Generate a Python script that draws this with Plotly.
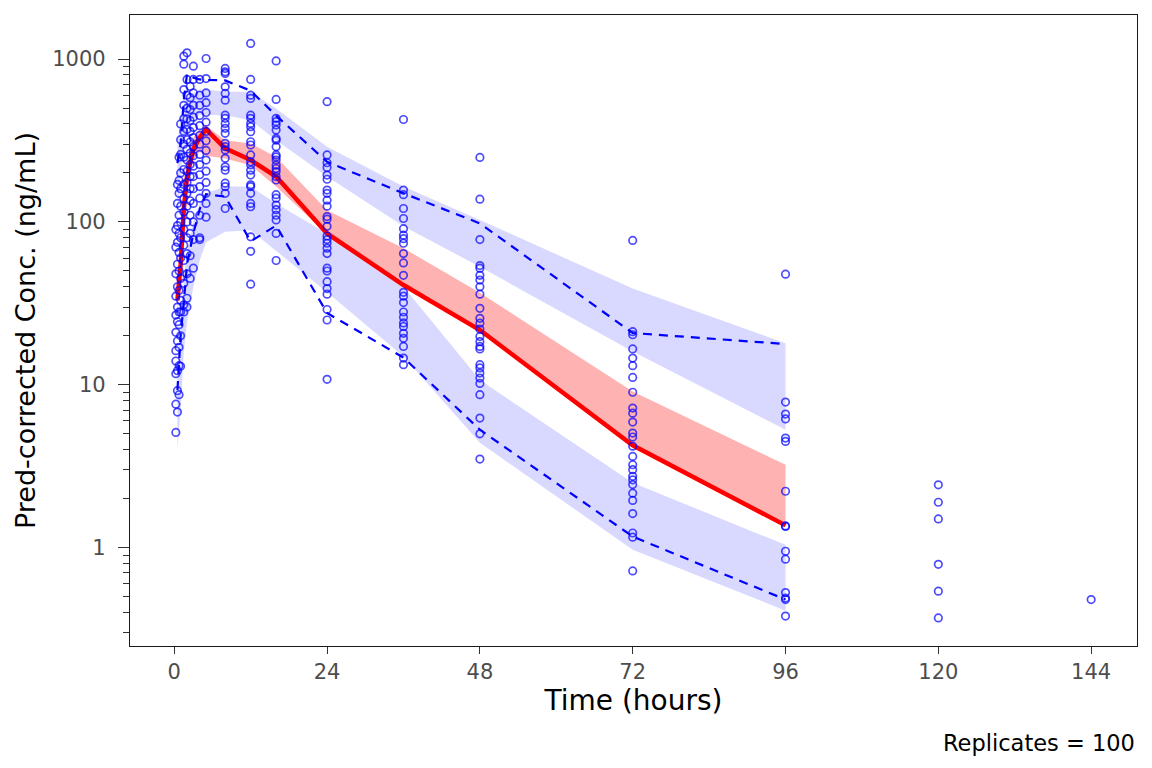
import plotly.graph_objects as go

# ========== 观测数据（按名义时间分列） ==========
obs_times = [0.25, 0.5, 0.75, 1, 1.5, 2, 2.5, 3, 4, 5, 8, 12, 16, 24, 36, 48, 72, 96, 120, 144]
obs_conc = [
    [5.1, 7.6, 11.7, 14.0, 16.2, 21.0, 26.8, 35, 48, 70, 90],
    [6.8, 9.2, 12.2, 18.6, 24.4, 30, 40, 55, 75, 95, 130, 170],
    [8.7, 13.1, 17, 23.4, 28, 38, 50, 65, 85, 110, 150, 180, 250],
    [13, 20, 28, 33, 45, 60, 80, 100, 125, 160, 200, 260, 320, 400],
    [28, 31, 42, 58, 72, 90, 115, 140, 170, 210, 250, 300, 360, 430, 520, 650, 931, 1043],
    [30, 34, 48, 64, 80, 100, 125, 150, 175, 205, 240, 280, 320, 370, 430, 500, 600, 750, 1094],
    [45, 62, 85, 110, 135, 160, 190, 225, 265, 310, 360, 420, 490, 580, 680],
    [52, 78, 100, 130, 160, 190, 220, 255, 290, 330, 380, 440, 520, 620, 750, 905],
    [78, 80, 110, 140, 165, 195, 225, 260, 300, 340, 390, 450, 520, 600, 750],
    [107, 130, 150, 175, 205, 240, 275, 315, 360, 410, 470, 540, 620, 760, 1009],
    [877, 836, 817, 676, 616, 560, 453, 433, 403, 376, 350, 304, 290, 277, 246, 218, 208, 173, 165, 150, 121],
    [1248, 750, 601, 574, 453, 433, 403, 385, 358, 311, 297, 258, 234, 224, 208, 194, 169, 165, 150, 130, 124, 81, 66, 41.5],
    [975, 566, 433, 413, 394, 367, 326, 318, 290, 258, 251, 240, 223, 213, 204, 190, 181, 147, 140, 127, 119, 110, 103, 85, 58],
    [548, 258, 231, 216, 194, 183, 157, 150, 136, 125, 108, 104, 94, 82, 78, 74, 69, 64, 52, 50, 43, 39, 36, 29, 25, 10.8],
    [426, 157, 147, 121, 105, 91, 83, 79, 74, 64, 56, 47, 37, 35, 32, 28, 26, 24, 22.8, 20.7, 19.3, 17.2, 14.6, 13.3],
    [249, 138, 78, 54, 52, 47, 44, 40, 36, 29.5, 25.6, 23.9, 22, 19.8, 18.4, 17.2, 16.6, 13.3, 12.7, 11.8, 11.0, 10.2, 8.7, 6.25, 5.0, 3.5],
    [77, 21.2, 20.3, 16.6, 14.6, 13.1, 11.1, 9.0, 7.2, 6.7, 5.9, 5.05, 4.78, 4.2, 3.63, 3.23, 3.01, 2.74, 2.61, 2.44, 2.16, 1.95, 1.62, 1.23, 1.16, 0.72],
    [47.8, 7.83, 6.61, 6.17, 4.71, 4.49, 2.22, 1.36, 1.35, 0.95, 0.85, 0.53, 0.49, 0.48, 0.38],
    [2.43, 1.90, 1.50, 0.79, 0.54, 0.37],
    [0.48],
]

# ========== VPC分箱统计 ==========
bin_t = [0.5, 1, 1.5, 2, 3, 4, 5, 8, 12, 16, 24, 36, 48, 72, 96]
obs_med = [33, 55, 120, 190, 280, 330, 370, 283, 240, 190, 85, 41, 21.7, 4.25, 1.37]
obs_hi = [230, 300, 560, 810, 770, 750, 745, 740, 640, 450, 234, 150, 98, 20.8, 17.8]
obs_lo = [9.3, 20, 32, 55, 85, 120, 148, 143, 76, 95, 27.6, 14.7, 5.3, 1.17, 0.48]
med_ci_lo = [27, 45, 95, 160, 240, 270, 255, 245, 223, 165, 84, 42, 21.5, 4.2, 1.36]
med_ci_hi = [40, 75, 150, 240, 330, 370, 390, 318, 303, 251, 118, 69, 36.7, 9.1, 3.23]
hi_ci_lo = [100, 200, 300, 380, 430, 455, 455, 453, 422, 318, 190, 94, 53, 16, 5.3]
hi_ci_hi = [300, 450, 520, 580, 620, 650, 650, 630, 630, 498, 290, 165, 103, 39, 18]
lo_ci_lo = [4, 7, 16, 24, 40, 58, 75, 87, 89, 67, 37, 14.9, 4.4, 0.97, 0.41]
lo_ci_hi = [12, 25, 45, 65, 100, 130, 150, 165, 165, 130, 85, 40, 10.7, 2.5, 1.04]

x_ticks = [0, 24, 48, 72, 96, 120, 144]
y_ticks = [1, 10, 100, 1000]
y_minor = [m * 10 ** k for k in range(-1, 4) for m in range(2, 10)]


def band(x, lo, hi, color):
    return go.Scatter(x=list(x) + list(x)[::-1], y=list(hi) + list(lo)[::-1],
                      fill='toself', fillcolor=color, line=dict(width=0),
                      mode='lines', hoverinfo='skip', showlegend=False)


fig = go.Figure()
fig.add_trace(band(bin_t, hi_ci_lo, hi_ci_hi, 'rgba(0,0,255,0.15)'))
fig.add_trace(band(bin_t, lo_ci_lo, lo_ci_hi, 'rgba(0,0,255,0.15)'))
fig.add_trace(band(bin_t, med_ci_lo, med_ci_hi, 'rgba(255,0,0,0.3)'))
fig.add_trace(go.Scatter(x=bin_t, y=obs_med, mode='lines', line=dict(color='red', width=4.5), showlegend=False))
fig.add_trace(go.Scatter(x=bin_t, y=obs_hi, mode='lines', line=dict(color='blue', width=2.2, dash='9px,7px'), showlegend=False))
fig.add_trace(go.Scatter(x=bin_t, y=obs_lo, mode='lines', line=dict(color='blue', width=2.2, dash='9px,7px'), showlegend=False))

xs, ys = [], []
for t, vals in zip(obs_times, obs_conc):
    xs += [t] * len(vals)
    ys += vals
fig.add_trace(go.Scatter(x=xs, y=ys, mode='markers', showlegend=False,
                         marker=dict(symbol='circle-open', size=7.5, color='rgba(0,0,255,0.7)',
                                     line=dict(width=1.7))))

fig.update_layout(
    width=1152, height=768,
    margin=dict(l=130, r=15, t=15, b=122),
    paper_bgcolor='white', plot_bgcolor='white',
    font=dict(family='DejaVu Sans', size=21, color='#4D4D4D'),
    xaxis=dict(range=[-6.95, 151.2], tickvals=x_ticks, ticks='outside', ticklen=7, tickwidth=1.4,
               tickcolor='#333333', showline=True, linecolor='#1a1a1a', linewidth=1.3, mirror=True,
               showgrid=False, zeroline=False, ticklabelstandoff=0,
               title=dict(text='Time (hours)', font=dict(size=28, color='black'), standoff=6)),
    yaxis=dict(type='log', range=[-0.604, 3.271], tickvals=y_ticks, ticktext=['1', '10', '100', '1000'],
               ticks='outside', ticklen=11, tickwidth=1.4, tickcolor='#333333',
               minor=dict(tickvals=y_minor, ticks='outside', ticklen=6, tickwidth=1.1,
                          tickcolor='#333333', showgrid=False),
               showline=True, linecolor='#1a1a1a', linewidth=1.3, mirror=True,
               showgrid=False, zeroline=False, ticklabelstandoff=8,
               title=dict(text='Pred-corrected Conc. (ng/mL)', font=dict(size=27, color='black'), standoff=8)),
    annotations=[dict(text='Replicates = 100', xref='paper', yref='paper', x=1, y=-0.13,
                      xanchor='right', yanchor='top', showarrow=False,
                      font=dict(size=22.5, color='black'))],
)

fig.write_html('out.html', config={'displayModeBar': False},
               post_script="document.body.style.margin='0';document.body.style.overflow='hidden';")
